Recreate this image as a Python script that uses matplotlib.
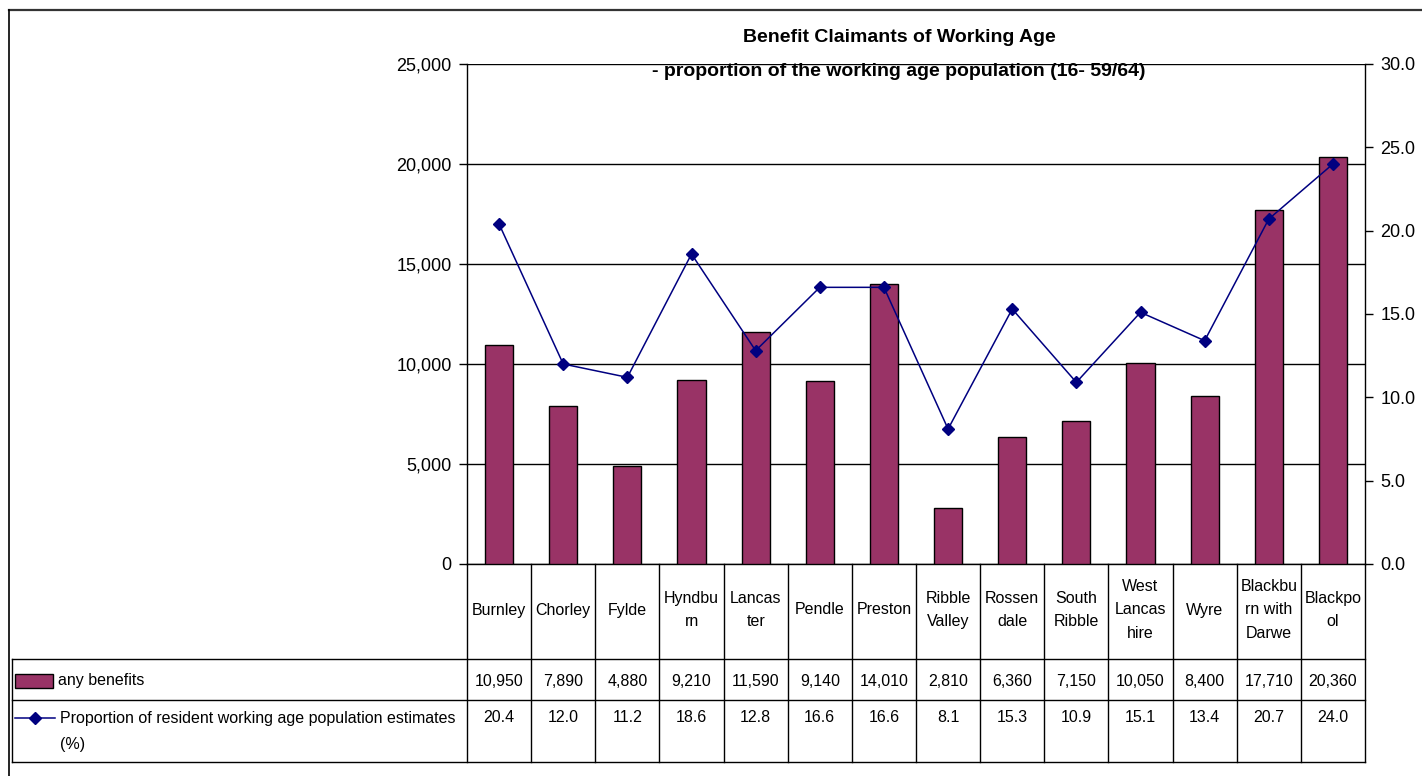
import matplotlib
matplotlib.use("Agg")
import matplotlib.pyplot as plt
from matplotlib.lines import Line2D
from matplotlib.patches import Rectangle
from matplotlib.transforms import blended_transform_factory

# data
districts = ["Burnley", "Chorley", "Fylde", "Hyndbu\nrn", "Lancas\nter",
             "Pendle", "Preston", "Ribble\nValley", "Rossen\ndale",
             "South\nRibble", "West\nLancas\nhire", "Wyre",
             "Blackbu\nrn with\nDarwe", "Blackpo\nol"]
any_benefits = [10950, 7890, 4880, 9210, 11590, 9140, 14010,
                2810, 6360, 7150, 10050, 8400, 17710, 20360]
proportion = [20.4, 12.0, 11.2, 18.6, 12.8, 16.6, 16.6,
              8.1, 15.3, 10.9, 15.1, 13.4, 20.7, 24.0]
left_ticks = [0, 5000, 10000, 15000, 20000, 25000]
right_ticks = [0, 5, 10, 15, 20, 25, 30]

BAR = "#993366"
LINE = "#000080"
SANS = ["Liberation Sans", "DejaVu Sans"]
TFS = 11.5   # table font size

W, H = 1422, 776
fig = plt.figure(figsize=(W / 100, H / 100), dpi=100)

# pixel-space overlay for frame + table
ov = fig.add_axes([0, 0, 1, 1])
ov.set_xlim(0, W)
ov.set_ylim(H, 0)
ov.axis("off")

px_l, px_r, px_t, px_b = 467, 1365, 64, 564
ax = fig.add_axes([px_l / W, 1 - px_b / H, (px_r - px_l) / W, (px_b - px_t) / H])
ax.set_facecolor("none")
n = len(districts)
x = list(range(n))
ax.bar(x, any_benefits, width=0.44, color=BAR, edgecolor="black",
       linewidth=1.0, zorder=3)
ax.set_xlim(-0.5, n - 0.5)
ax.set_ylim(0, 25000)
ax.set_yticks(left_ticks)
ax.set_yticklabels([f"{v:,}" for v in left_ticks], family=SANS, fontsize=13)
ax.grid(axis="y", color="black", linewidth=1.0, zorder=0)
ax.set_xticks([])
for s in ["top", "right"]:
    ax.spines[s].set_visible(False)
ax.spines["left"].set_linewidth(1.0)
ax.spines["bottom"].set_linewidth(1.0)
ax.tick_params(axis="y", direction="out", length=6, width=1.0, pad=5)

ax2 = ax.twinx()
ax2.plot(x, proportion, color=LINE, linewidth=1.1, marker="D",
         markersize=6.5, zorder=4)
ax2.set_ylim(0, 30)
ax2.set_yticks(right_ticks)
ax2.set_yticklabels([f"{v:.1f}" for v in right_ticks], family=SANS, fontsize=13)
for s in ["top", "left", "bottom"]:
    ax2.spines[s].set_visible(False)
ax2.spines["right"].set_linewidth(1.0)
ax2.tick_params(axis="y", direction="out", length=6, width=1.0, pad=5)

# title
fig.text(899 / W, 1 - 37 / H, "Benefit Claimants of Working Age",
         ha="center", va="center", fontsize=14, fontweight="bold", family=SANS)
fig.text(899 / W, 1 - 72 / H, "- proportion of the working age population (16- 59/64)",
         ha="center", va="center", fontsize=14, fontweight="bold", family=SANS)

# outer frame
ov.add_line(Line2D([9, W], [10, 10], color="#333333", linewidth=1.6))
ov.add_line(Line2D([9, 9], [10, H], color="black", linewidth=1.2))

# data table
row_y = [564, 659, 700, 762]
tr = blended_transform_factory(ax.transData, ov.transData)
for y in row_y[1:]:
    ov.add_line(Line2D([12, px_r], [y, y], color="black", linewidth=1.0))
ov.add_line(Line2D([12, 12], [row_y[1], row_y[3]], color="black", linewidth=1.0))
for b in [i - 0.5 for i in range(n + 1)]:
    ov.add_line(Line2D([b, b], [row_y[0], row_y[3]], color="black",
                       linewidth=1.0, transform=tr))

for i in range(n):
    ov.text(i, 610, districts[i], transform=tr, ha="center", va="center",
            multialignment="center", linespacing=1.7, fontsize=TFS, family=SANS)
    ov.text(i, 681, f"{any_benefits[i]:,}", transform=tr, ha="center",
            va="center", fontsize=TFS, family=SANS)
    ov.text(i, 718, f"{proportion[i]:.1f}", transform=tr, ha="center",
            va="center", fontsize=TFS, family=SANS)

# legend keys in table
ov.add_patch(Rectangle((15, 674), 38, 14, facecolor=BAR, edgecolor="black",
                       linewidth=1.0))
ov.text(58, 681, "any benefits", ha="left", va="center", fontsize=TFS, family=SANS)
ov.add_line(Line2D([15, 55], [718, 718], color=LINE, linewidth=1.1))
ov.add_line(Line2D([35], [718], color=LINE, marker="D", markersize=6.5))
ov.text(60, 718, "Proportion of resident working age population estimates",
        ha="left", va="center", fontsize=TFS, family=SANS)
ov.text(60, 745, "(%)", ha="left", va="center", fontsize=TFS, family=SANS)

fig.savefig("out.png", dpi=100, facecolor="white")
